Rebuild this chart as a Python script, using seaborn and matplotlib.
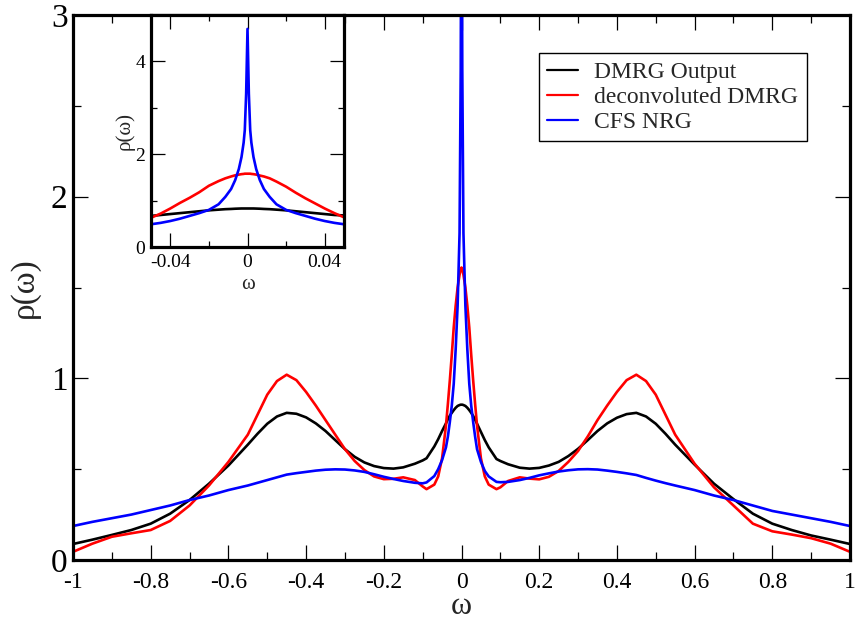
import matplotlib
matplotlib.use("Agg")
import matplotlib.pyplot as plt
import seaborn as sns
import pandas as pd
from matplotlib.ticker import MultipleLocator

# ---------------- data ----------------
omega = [-1.0, -0.95, -0.9, -0.85, -0.8, -0.75, -0.7, -0.65, -0.6, -0.55,
         -0.525, -0.5, -0.475, -0.45, -0.425, -0.4, -0.375, -0.35, -0.325, -0.3,
         -0.275, -0.25, -0.225, -0.2, -0.175, -0.15, -0.12, -0.1, -0.09, -0.07,
         -0.06, -0.05, -0.04, -0.035, -0.03, -0.025, -0.02, -0.015, -0.01, -0.005,
         -0.002, -0.001,
         0.0,
         0.001, 0.002, 0.005, 0.01, 0.015, 0.02, 0.025, 0.03, 0.035, 0.04,
         0.05, 0.06, 0.07, 0.09, 0.1, 0.12, 0.15, 0.175, 0.2, 0.225,
         0.25, 0.275, 0.3, 0.325, 0.35, 0.375, 0.4, 0.425, 0.45, 0.475,
         0.5, 0.525, 0.55, 0.6, 0.65, 0.7, 0.75, 0.8, 0.85, 0.9,
         0.95, 1.0]

dmrg_output = [0.088, 0.112, 0.138, 0.165, 0.20, 0.255, 0.33, 0.42, 0.52, 0.635,
               0.695, 0.75, 0.79, 0.81, 0.805, 0.785, 0.752, 0.71, 0.66, 0.61,
               0.568, 0.537, 0.517, 0.506, 0.503, 0.51, 0.53, 0.548, 0.56, 0.625,
               0.665, 0.71, 0.752, 0.775, 0.795, 0.81, 0.825, 0.838, 0.848, 0.853,
               0.855, 0.855,
               0.855,
               0.855, 0.855, 0.853, 0.848, 0.838, 0.825, 0.81, 0.793, 0.772, 0.75,
               0.705, 0.66, 0.62, 0.556, 0.545, 0.527, 0.508, 0.503, 0.507, 0.52,
               0.54, 0.572, 0.612, 0.66, 0.71, 0.752, 0.783, 0.803, 0.81, 0.79,
               0.75, 0.695, 0.635, 0.525, 0.42, 0.335, 0.255, 0.20, 0.165, 0.135,
               0.112, 0.088]

deconv_dmrg = [0.045, 0.09, 0.128, 0.147, 0.165, 0.215, 0.30, 0.41, 0.54, 0.69,
               0.80, 0.91, 0.985, 1.02, 0.99, 0.925, 0.85, 0.77, 0.69, 0.61,
               0.545, 0.495, 0.46, 0.445, 0.447, 0.455, 0.44, 0.405, 0.39, 0.415,
               0.46, 0.56, 0.74, 0.86, 0.99, 1.13, 1.28, 1.40, 1.50, 1.57,
               1.60, 1.60,
               1.61,
               1.60, 1.60, 1.57, 1.50, 1.40, 1.28, 1.13, 0.99, 0.86, 0.74,
               0.56, 0.46, 0.415, 0.39, 0.40, 0.435, 0.455, 0.448, 0.444, 0.458,
               0.49, 0.54, 0.60, 0.68, 0.77, 0.85, 0.925, 0.99, 1.02, 0.985,
               0.91, 0.80, 0.69, 0.53, 0.40, 0.30, 0.20, 0.158, 0.14, 0.12,
               0.09, 0.045]

cfs_nrg = [0.187, 0.21, 0.23, 0.25, 0.275, 0.30, 0.33, 0.355, 0.385, 0.41,
           0.425, 0.44, 0.455, 0.47, 0.478, 0.485, 0.492, 0.497, 0.499, 0.498,
           0.493, 0.485, 0.472, 0.458, 0.446, 0.435, 0.425, 0.422, 0.427, 0.462,
           0.50, 0.55, 0.62, 0.68, 0.76, 0.85, 0.97, 1.16, 1.40, 1.80,
           2.70, 3.40,
           4.70,
           3.40, 2.70, 1.80, 1.40, 1.16, 0.97, 0.85, 0.76, 0.68, 0.61,
           0.54, 0.49, 0.46, 0.43, 0.428, 0.43, 0.44, 0.452, 0.466, 0.477,
           0.487, 0.494, 0.499, 0.50, 0.498, 0.492, 0.485, 0.477, 0.468, 0.452,
           0.437, 0.423, 0.41, 0.385, 0.355, 0.33, 0.30, 0.27, 0.25, 0.23,
           0.21, 0.187]

inset_omega = [-0.05, -0.045, -0.04, -0.035, -0.03, -0.025, -0.02, -0.015,
               -0.0115, -0.0085, -0.0064, -0.0045, -0.0031, -0.002, -0.0014, -0.0007,
               0.0,
               0.0007, 0.0014, 0.002, 0.0031, 0.0045, 0.0064, 0.0085, 0.0115,
               0.015, 0.02, 0.025, 0.03, 0.035, 0.04, 0.045, 0.05]

inset_dmrg = [0.67, 0.69, 0.71, 0.73, 0.75, 0.77, 0.79, 0.805,
              0.815, 0.82, 0.825, 0.828, 0.83, 0.83, 0.83, 0.83,
              0.83,
              0.83, 0.83, 0.83, 0.83, 0.828, 0.825, 0.82, 0.815,
              0.805, 0.79, 0.77, 0.75, 0.73, 0.71, 0.69, 0.68]

inset_deconv = [0.63, 0.72, 0.83, 0.95, 1.06, 1.18, 1.32, 1.42,
                1.48, 1.52, 1.545, 1.56, 1.57, 1.575, 1.58, 1.58,
                1.58,
                1.58, 1.58, 1.575, 1.57, 1.56, 1.54, 1.52, 1.48,
                1.41, 1.30, 1.17, 1.05, 0.94, 0.83, 0.73, 0.64]

inset_cfs = [0.49, 0.52, 0.56, 0.61, 0.67, 0.73, 0.80, 0.92,
             1.08, 1.25, 1.44, 1.68, 1.94, 2.25, 2.52, 3.30,
             4.70,
             3.30, 2.52, 2.25, 1.94, 1.68, 1.44, 1.25, 1.08,
             0.92, 0.80, 0.73, 0.67, 0.61, 0.56, 0.52, 0.49]

labels = ["DMRG Output", "deconvoluted DMRG", "CFS NRG"]
colors = ["black", "red", "blue"]

x_ticks = [-1, -0.8, -0.6, -0.4, -0.2, 0, 0.2, 0.4, 0.6, 0.8, 1]
x_ticklabels = ["-1", "-0.8", "-0.6", "-0.4", "-0.2", "0", "0.2", "0.4", "0.6", "0.8", "1"]
y_ticks = [0, 1, 2, 3]
y_ticklabels = ["0", "1", "2", "3"]
inset_x_ticks = [-0.04, 0, 0.04]
inset_x_ticklabels = ["-0.04", "0", "0.04"]
inset_y_ticks = [0, 2, 4]
inset_y_ticklabels = ["0", "2", "4"]

# ---------------- long-form tables ----------------
main_df = pd.concat([
    pd.DataFrame({"omega": omega, "rho": vals, "series": lab})
    for vals, lab in zip([dmrg_output, deconv_dmrg, cfs_nrg], labels)
], ignore_index=True)
inset_df = pd.concat([
    pd.DataFrame({"omega": inset_omega, "rho": vals, "series": lab})
    for vals, lab in zip([inset_dmrg, inset_deconv, inset_cfs], labels)
], ignore_index=True)

# ---------------- style ----------------
sns.set_theme(style="ticks")
plt.rcParams["font.family"] = ["Liberation Serif", "DejaVu Serif"]
plt.rcParams["axes.unicode_minus"] = False
plt.rcParams["lines.solid_joinstyle"] = "round"
plt.rcParams["lines.solid_capstyle"] = "round"

palette = dict(zip(labels, colors))

fig = plt.figure(figsize=(8.55, 6.2), dpi=100)
ax = fig.add_axes([73 / 855, 1 - 560 / 620, 777 / 855, 545 / 620])

sns.lineplot(data=main_df, x="omega", y="rho", hue="series", hue_order=labels,
             palette=palette, ax=ax, linewidth=1.9, sort=False, estimator=None)
for ln in ax.lines:
    ln.set_solid_joinstyle("round")

ax.set_xlim(-1, 1)
ax.set_ylim(0, 3)
ax.set_xticks(x_ticks)
ax.set_xticklabels(x_ticklabels, fontsize=17)
ax.set_yticks(y_ticks)
ax.set_yticklabels(y_ticklabels, fontsize=24)
ax.xaxis.set_minor_locator(MultipleLocator(0.1))
ax.yaxis.set_minor_locator(MultipleLocator(0.5))
ax.tick_params(which="both", direction="in", top=True, right=True,
               color="black", labelcolor="black", width=0.9)
ax.tick_params(which="major", length=11)
ax.tick_params(which="minor", length=5.5)
ax.tick_params(axis="x", which="major", pad=9)
ax.tick_params(axis="y", which="major", pad=4)
for sp in ax.spines.values():
    sp.set_linewidth(2.3)
    sp.set_color("black")
    sp.set_visible(True)
ax.set_xlabel("ω", fontsize=23, labelpad=-1)
ax.set_ylabel("ρ(ω)", fontsize=24, labelpad=8)

leg = ax.legend(loc="upper left", bbox_to_anchor=((539 - 73) / 777, (560 - 53) / 545),
                borderaxespad=0, fontsize=17, frameon=True, fancybox=False,
                edgecolor="black", framealpha=1, handlelength=1.3,
                handletextpad=0.7, labelspacing=0.15, borderpad=0.35)
leg.get_frame().set_linewidth(1.0)
for line in leg.get_lines():
    line.set_linewidth(1.6)

# ---------------- inset ----------------
ax_in = fig.add_axes([151 / 855, 1 - 247 / 620, 193 / 855, 232 / 620])
ax_in.set_facecolor("white")
sns.lineplot(data=inset_df, x="omega", y="rho", hue="series", hue_order=labels,
             palette=palette, ax=ax_in, linewidth=1.9, sort=False, estimator=None,
             legend=False)
for ln in ax_in.lines:
    ln.set_solid_joinstyle("round")
ax_in.set_xlim(-0.05, 0.05)
ax_in.set_ylim(0, 5)
ax_in.set_xticks(inset_x_ticks)
ax_in.set_xticklabels(inset_x_ticklabels, fontsize=14)
ax_in.set_yticks(inset_y_ticks)
ax_in.set_yticklabels(inset_y_ticklabels, fontsize=14)
ax_in.xaxis.set_minor_locator(MultipleLocator(0.02))
ax_in.yaxis.set_minor_locator(MultipleLocator(1))
ax_in.tick_params(which="both", direction="in", top=True, right=True,
                  color="black", labelcolor="black", width=0.9)
ax_in.tick_params(which="major", length=10)
ax_in.tick_params(which="minor", length=4.5)
ax_in.tick_params(axis="x", which="major", pad=5)
ax_in.tick_params(axis="y", which="major", pad=4)
for sp in ax_in.spines.values():
    sp.set_linewidth(2.3)
    sp.set_color("black")
    sp.set_visible(True)
ax_in.set_xlabel("ω", fontsize=15, labelpad=3)
ax_in.set_ylabel("ρ(ω)", fontsize=15, labelpad=1)

fig.savefig("out.png", dpi=100)
